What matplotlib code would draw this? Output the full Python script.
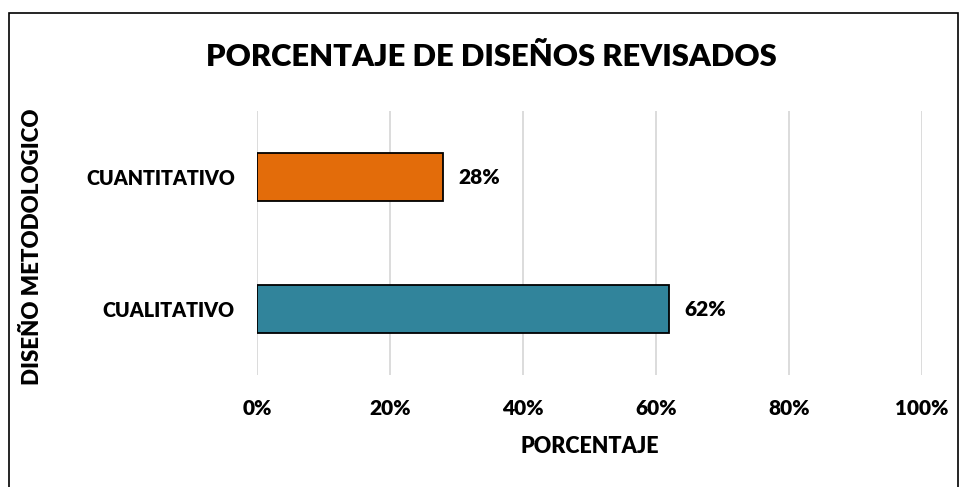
import matplotlib.pyplot as plt
from matplotlib.patches import Rectangle

categorias = ['CUALITATIVO', 'CUANTITATIVO']
porcentajes = [62, 28]
colores = ['#31849B', '#E36C0A']
ticks = [0, 20, 40, 60, 80, 100]

plt.rcParams['font.family'] = ['Lato', 'DejaVu Sans']
W = 'heavy'

fig = plt.figure(figsize=(9.61, 4.87), dpi=100)
# plot area (pixels: x 257-922, y 111-375)
ax = fig.add_axes([257/961, 1 - 375/487, 665/961, 264/487])

y = range(len(categorias))
ax.barh(y, porcentajes, height=0.36, color=colores, edgecolor='black', linewidth=1.3, zorder=3)
for i, v in enumerate(porcentajes):
    ax.text(v + 2.3, i, '%d%%' % v, va='center', ha='left', fontsize=15, fontweight=W)

ax.set_xlim(0, 100)
ax.set_ylim(-0.5, 1.5)
ax.set_xticks(ticks)
ax.set_xticklabels(['%d%%' % t for t in ticks], fontsize=15, fontweight=W)
ax.set_yticks(list(y))
ax.set_yticklabels(categorias, fontsize=14.2, fontweight=W)
ax.tick_params(axis='both', length=0)
ax.tick_params(axis='x', pad=17)
ax.tick_params(axis='y', pad=16)
ax.grid(axis='x', color='#D9D9D9', linewidth=1.3, zorder=0)
for s in ax.spines.values():
    s.set_visible(False)

ax.set_xlabel('PORCENTAJE', fontsize=15.5, fontweight=W, labelpad=13)
fig.text(33/961, 1 - 247/487, 'DISEÑO METODOLOGICO', rotation=90, ha='center', va='center',
         fontsize=16, fontweight=W)
fig.text(491/961, 1 - 57/487, 'PORCENTAJE DE DISEÑOS REVISADOS', ha='center', va='center',
         fontsize=22.3, fontweight=W)

# chart border
fig.patches.append(Rectangle((9/961, -0.01), 949/961, 1 - 13/487 + 0.01, transform=fig.transFigure,
                             fill=False, edgecolor='black', linewidth=1.2))

fig.savefig('out.png', dpi=100)
